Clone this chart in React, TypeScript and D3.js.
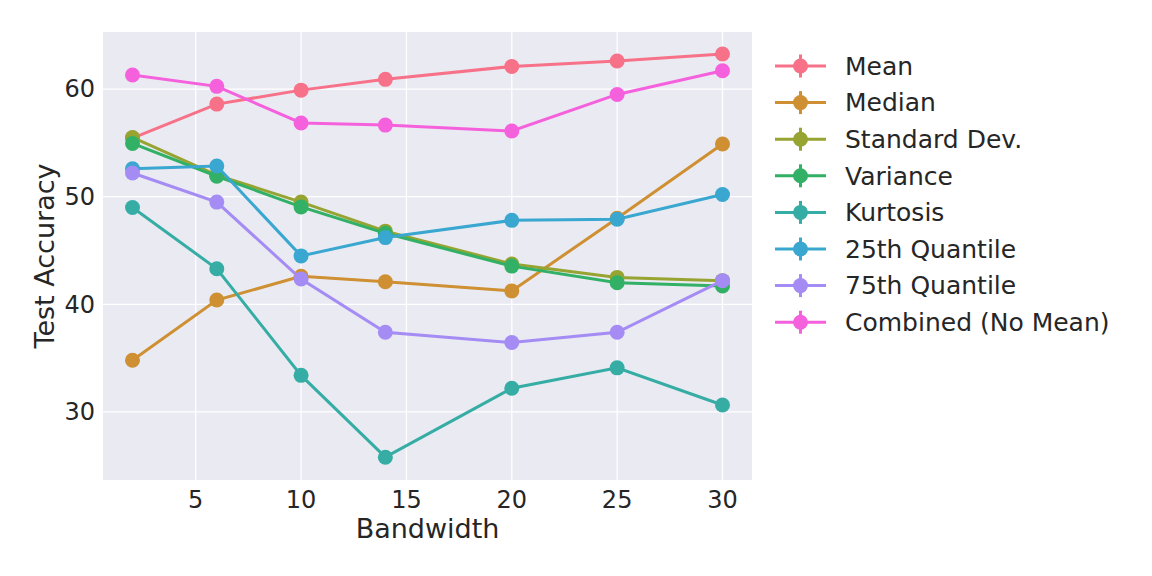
import * as d3 from "d3";
import { useEffect, useRef } from "react";

const bandwidths = [2, 6, 10, 14, 20, 25, 30];

const seriesNames = [
  "Mean",
  "Median",
  "Standard Dev.",
  "Variance",
  "Kurtosis",
  "25th Quantile",
  "75th Quantile",
  "Combined (No Mean)",
];

const meanVals = [55.45, 58.6, 59.9, 60.9, 62.1, 62.6, 63.25];
const medianVals = [34.8, 40.4, 42.6, 42.1, 41.25, 48.0, 54.9];
const stdVals = [55.5, 52.0, 49.5, 46.8, 43.75, 42.5, 42.2];
const varianceVals = [54.95, 51.9, 49.05, 46.6, 43.55, 42.0, 41.7];
const kurtosisVals = [49.0, 43.3, 33.4, 25.8, 32.2, 34.1, 30.65];
const q25Vals = [52.6, 52.85, 44.5, 46.2, 47.8, 47.9, 50.2];
const q75Vals = [52.2, 49.5, 42.35, 37.4, 36.45, 37.4, 42.2];
const combinedVals = [61.3, 60.25, 56.85, 56.65, 56.1, 59.5, 61.7];

const seriesValues = [
  meanVals,
  medianVals,
  stdVals,
  varianceVals,
  kurtosisVals,
  q25Vals,
  q75Vals,
  combinedVals,
];

const palette = [
  "#f77189",
  "#ce9032",
  "#97a431",
  "#32b166",
  "#36ada4",
  "#39a7d0",
  "#a48cf4",
  "#f561dd",
];

const xTicks = [5, 10, 15, 20, 25, 30];
const yTicks = [30, 40, 50, 60];

export default function App() {
  const svgRef = useRef<SVGSVGElement>(null);
  const width = 1152;
  const height = 576;

  useEffect(() => {
    if (!svgRef.current) return;
    const margin = { top: 32, right: 400, bottom: 96, left: 103 };
    const plotW = width - margin.left - margin.right;
    const plotH = height - margin.top - margin.bottom;
    const font = "DejaVu Sans, sans-serif";
    const tickSize = 24;
    const legendSize = 25;
    const labelSize = 27;
    const lw = 3;
    const r = 7.5;

    const svg = d3.select(svgRef.current);
    svg.selectAll("*").remove();

    const x = d3.scaleLinear().domain([0.6, 31.4]).range([0, plotW]);
    const y = d3.scaleLinear().domain([23.68, 65.3]).range([plotH, 0]);

    const g = svg
      .append("g")
      .attr("transform", `translate(${margin.left},${margin.top})`);

    g.append("rect")
      .attr("width", plotW)
      .attr("height", plotH)
      .attr("fill", "#eaeaf2");

    // grid
    g.selectAll(".gx")
      .data(xTicks)
      .enter()
      .append("line")
      .attr("x1", (d) => x(d))
      .attr("x2", (d) => x(d))
      .attr("y1", 0)
      .attr("y2", plotH)
      .attr("stroke", "white")
      .attr("stroke-width", 1.3);
    g.selectAll(".gy")
      .data(yTicks)
      .enter()
      .append("line")
      .attr("y1", (d) => y(d))
      .attr("y2", (d) => y(d))
      .attr("x1", 0)
      .attr("x2", plotW)
      .attr("stroke", "white")
      .attr("stroke-width", 1.3);

    // tick labels
    g.selectAll(".tx")
      .data(xTicks)
      .enter()
      .append("text")
      .attr("x", (d) => x(d))
      .attr("y", plotH + 28)
      .attr("text-anchor", "middle")
      .attr("font-family", font)
      .attr("font-size", tickSize)
      .attr("fill", "#262626")
      .text((d) => d);
    g.selectAll(".ty")
      .data(yTicks)
      .enter()
      .append("text")
      .attr("x", -8)
      .attr("y", (d) => y(d))
      .attr("dy", "0.35em")
      .attr("text-anchor", "end")
      .attr("font-family", font)
      .attr("font-size", tickSize)
      .attr("fill", "#262626")
      .text((d) => d);

    // axis labels
    svg
      .append("text")
      .attr("x", margin.left + plotW / 2)
      .attr("y", 538)
      .attr("text-anchor", "middle")
      .attr("font-family", font)
      .attr("font-size", labelSize)
      .attr("fill", "#262626")
      .text("Bandwidth");
    svg
      .append("text")
      .attr("transform", `translate(54,${margin.top + plotH / 2}) rotate(-90)`)
      .attr("text-anchor", "middle")
      .attr("font-family", font)
      .attr("font-size", labelSize)
      .attr("fill", "#262626")
      .text("Test Accuracy");

    // series
    const line = d3
      .line<number>()
      .x((_, i) => x(bandwidths[i]))
      .y((d) => y(d));

    seriesValues.forEach((vals, si) => {
      const color = palette[si];
      g.append("path")
        .datum(vals)
        .attr("d", line)
        .attr("fill", "none")
        .attr("stroke", color)
        .attr("stroke-width", lw);
      g.selectAll(`.pt${si}`)
        .data(vals)
        .enter()
        .append("circle")
        .attr("cx", (_, i) => x(bandwidths[i]))
        .attr("cy", (d) => y(d))
        .attr("r", r)
        .attr("fill", color);
    });

    // legend
    const legend = svg.append("g").attr("transform", "translate(775,66)");
    seriesNames.forEach((name, i) => {
      const row = legend.append("g").attr("transform", `translate(0,${i * 36.6})`);
      const color = palette[i];
      row
        .append("line")
        .attr("x1", 0)
        .attr("x2", 51)
        .attr("stroke", color)
        .attr("stroke-width", lw);
      row
        .append("line")
        .attr("x1", 25.5)
        .attr("x2", 25.5)
        .attr("y1", -11.5)
        .attr("y2", 11.5)
        .attr("stroke", color)
        .attr("stroke-width", lw);
      row.append("circle").attr("cx", 25.5).attr("r", r).attr("fill", color);
      row
        .append("text")
        .attr("x", 70)
        .attr("dy", "0.35em")
        .attr("font-family", font)
        .attr("font-size", legendSize)
        .attr("fill", "#262626")
        .text(name);
    });
  }, []);

  return (
    <svg
      ref={svgRef}
      width={width}
      height={height}
      style={{ position: "absolute", left: 0, top: 0, background: "white" }}
    />
  );
}
